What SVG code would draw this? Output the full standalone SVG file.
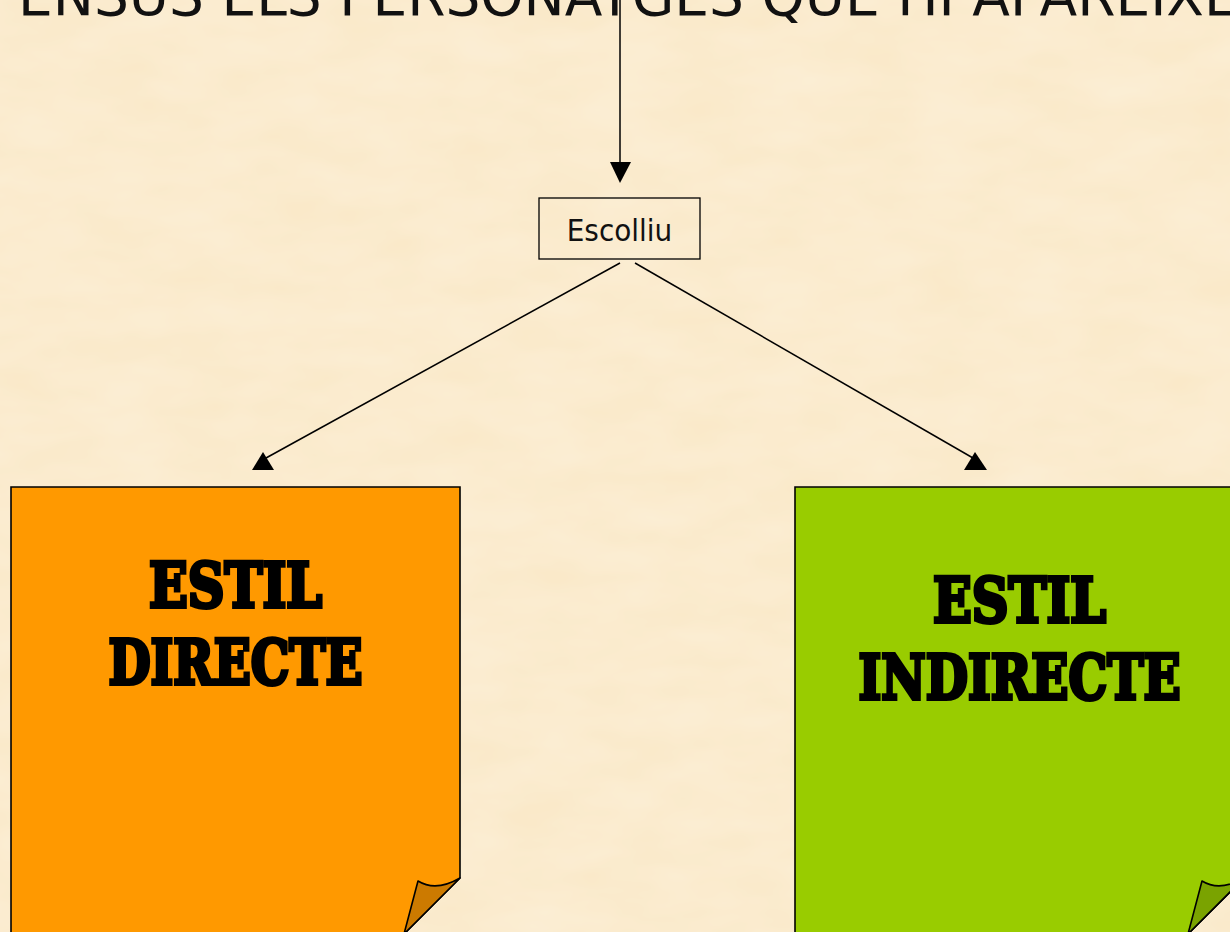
<svg xmlns="http://www.w3.org/2000/svg" width="1230" height="932" viewBox="0 0 1230 932">
<defs>
<style>
.title{font-family:"DejaVu Sans",Verdana,sans-serif;font-size:55px;fill:#111}
.label{font-family:"DejaVu Sans Condensed","DejaVu Sans",sans-serif;font-size:31px;fill:#111}
.big{font-family:"DejaVu Serif","Liberation Serif",serif;font-weight:bold;font-size:62px;fill:#000;stroke:#000;stroke-width:4px;stroke-linejoin:miter;text-anchor:middle}
.edge{stroke:#000;stroke-width:1.5;fill:none}
.head{fill:#000}
.card{stroke:#000;stroke-width:1.6}
</style>
<filter id="tex" x="0" y="0" width="100%" height="100%">
<feTurbulence type="fractalNoise" baseFrequency="0.012 0.03" numOctaves="3" seed="4" result="n"/>
<feColorMatrix in="n" type="matrix" values="0 0 0 0 1  0 0 0 0 0.97  0 0 0 0 0.9  0 0 0 0.35 -0.05"/>
</filter>
</defs>
<rect width="1230" height="932" fill="#FAE9C9"/>
<rect width="1230" height="932" filter="url(#tex)"/>

<g id="title">
<text class="title" x="18" y="15">ENSUS ELS PERSONATGES QUE HI APAREIXE</text>
</g>

<g id="connectors">
<line class="edge" x1="620" y1="0" x2="620" y2="165"/>
<polygon class="head" points="610,162 631,162 620,183"/>
<line class="edge" x1="620" y1="263" x2="266" y2="458"/>
<polygon class="head" points="263,452 252,470 274,470"/>
<line class="edge" x1="635" y1="263" x2="973" y2="458"/>
<polygon class="head" points="975,452 964,470 987,470"/>
</g>

<g id="escolliu">
<rect x="539" y="198" width="161" height="61" fill="none" stroke="#000" stroke-width="1.3"/>
<text class="label" x="619.5" y="241" text-anchor="middle">Escolliu</text>
</g>

<g id="estil-directe">
<path class="card" fill="#FF9900" d="M11,487 H460 V878 L404,934 H11 Z"/>
<path class="card" fill="#CC7A00" stroke-linejoin="round" d="M418,881 Q436,892 460,878 L404,934 Z"/>
<text class="big" x="235.5" y="607" textLength="173" lengthAdjust="spacingAndGlyphs">ESTIL</text>
<text class="big" x="235.5" y="684" textLength="254" lengthAdjust="spacingAndGlyphs">DIRECTE</text>
</g>

<g id="estil-indirecte">
<path class="card" fill="#99CC00" d="M795,487 H1244 V878 L1188,934 H795 Z"/>
<path class="card" fill="#7AA300" stroke-linejoin="round" d="M1202,881 Q1220,892 1244,878 L1188,934 Z"/>
<text class="big" x="1019.5" y="622" textLength="173" lengthAdjust="spacingAndGlyphs">ESTIL</text>
<text class="big" x="1019.5" y="699" textLength="322" lengthAdjust="spacingAndGlyphs">INDIRECTE</text>
</g>
</svg>
